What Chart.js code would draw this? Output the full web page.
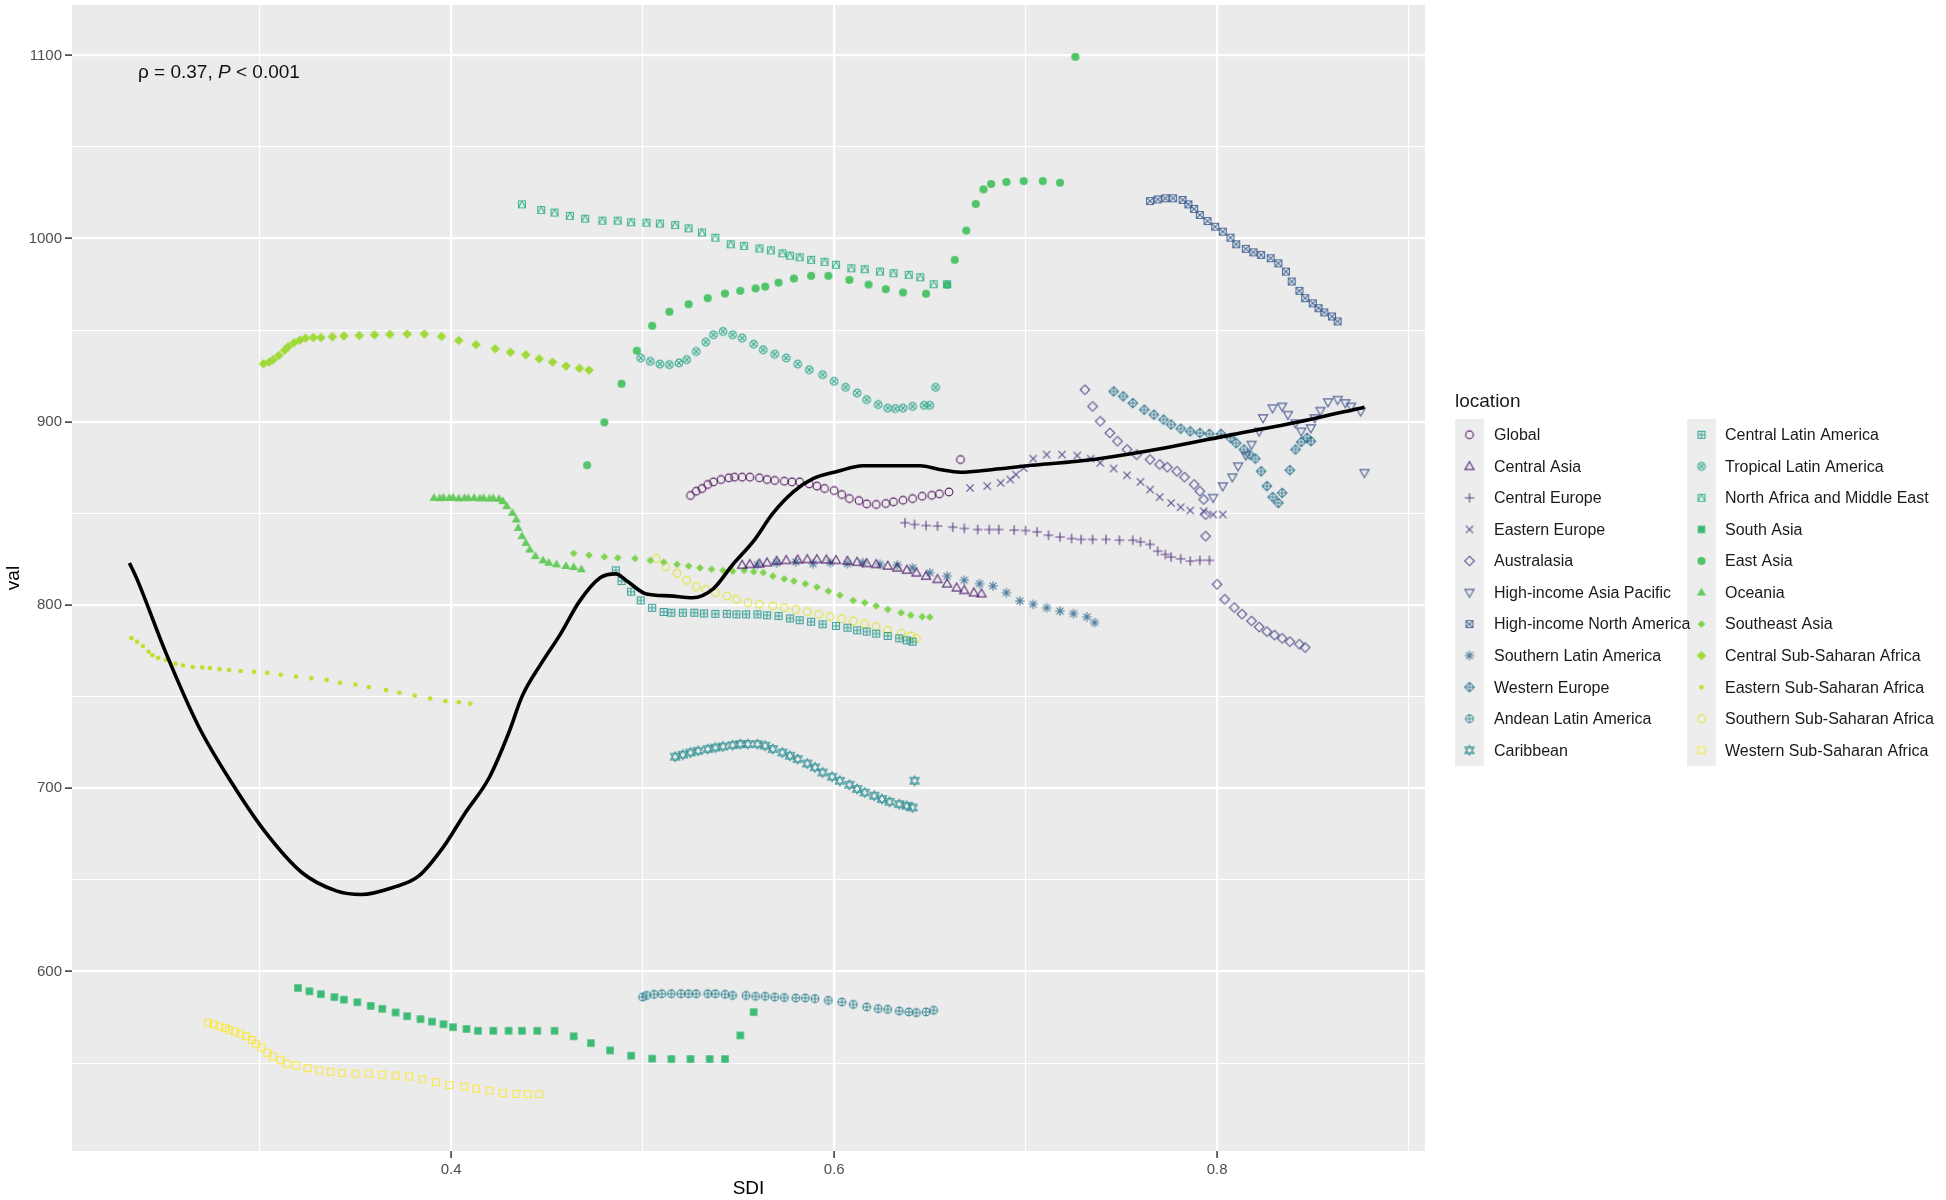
<!DOCTYPE html>
<html>
<head>
<meta charset="utf-8">
<script src="https://cdn.jsdelivr.net/npm/chart.js@4.4.1/dist/chart.umd.min.js"></script>
<style>
html,body{margin:0;padding:0;background:#ffffff;}
#wrap{width:1946px;height:1200px;position:relative;}
</style>
</head>
<body>
<div id="wrap"><canvas id="c" width="1946" height="1200"></canvas></div>
<script>
// ---------------- DATA ----------------
const regionNames = ['Global','Central Asia','Central Europe','Eastern Europe','Australasia','High-income Asia Pacific','High-income North America','Southern Latin America','Western Europe','Andean Latin America','Caribbean','Central Latin America','Tropical Latin America','North Africa and Middle East','South Asia','East Asia','Oceania','Southeast Asia','Central Sub-Saharan Africa','Eastern Sub-Saharan Africa','Southern Sub-Saharan Africa','Western Sub-Saharan Africa'];

const globalSDI = [0.525,0.528,0.531,0.534,0.537,0.541,0.545,0.548,0.552,0.556,0.561,0.565,0.569,0.574,0.578,0.582,0.587,0.591,0.595,0.600,0.604,0.608,0.613,0.617,0.622,0.627,0.631,0.636,0.641,0.646,0.651,0.655,0.660,0.666];
const globalVal = [859.8,862.1,863.6,865.8,867.2,868.5,869.4,869.8,869.8,869.8,869.4,868.5,868.0,867.6,867.2,867.2,866.1,864.9,863.6,862.5,860.3,858.1,857.0,855.2,854.9,855.4,856.3,857.2,858.1,859.4,859.9,860.7,861.7,879.4];

const centralAsiaSDI = [0.552,0.556,0.561,0.565,0.570,0.575,0.581,0.586,0.591,0.596,0.601,0.607,0.612,0.617,0.622,0.628,0.633,0.638,0.643,0.648,0.654,0.659,0.664,0.668,0.673,0.677];
const centralAsiaVal = [821.8,822.2,822.5,823.1,824.0,824.4,824.7,824.9,824.9,824.7,824.4,824.0,823.4,822.7,822.2,821.3,820.3,819.1,817.6,815.8,814.0,811.6,809.4,808.0,806.7,806.2];

const centralEuropeSDI = [0.637,0.642,0.648,0.654,0.662,0.668,0.675,0.681,0.686,0.694,0.700,0.706,0.712,0.718,0.724,0.729,0.735,0.742,0.749,0.756,0.760,0.765,0.769,0.773,0.776,0.781,0.786,0.791,0.796];
const centralEuropeVal = [844.9,844.0,843.4,843.1,842.5,841.8,841.2,841.2,841.2,840.9,840.7,839.9,838.1,837.1,836.3,835.8,835.8,835.8,835.4,835.4,834.5,833.1,829.4,827.6,826.2,825.2,824.0,824.4,824.4];

const easternEuropeSDI = [0.671,0.680,0.687,0.692,0.695,0.699,0.704,0.711,0.719,0.727,0.734,0.739,0.746,0.753,0.760,0.765,0.770,0.776,0.781,0.786,0.793,0.798,0.803];
const easternEuropeVal = [863.9,864.9,866.7,868.5,871.2,874.8,879.9,882.1,882.1,881.6,879.9,877.6,874.5,870.8,867.2,863.0,858.9,855.7,853.4,851.6,851.2,849.4,849.4];

const australasiaSDI = [0.731,0.735,0.739,0.744,0.748,0.753,0.758,0.765,0.770,0.774,0.779,0.783,0.788,0.791,0.793,0.794,0.794,0.800,0.804,0.809,0.813,0.818,0.822,0.826,0.830,0.834,0.838,0.843,0.846];
const australasiaVal = [917.5,908.4,900.3,893.9,889.4,884.9,882.1,879.4,876.7,875.2,873.0,869.8,865.8,862.1,857.6,849.4,837.6,811.3,803.1,798.6,795.0,791.3,788.0,785.5,783.6,781.8,780.0,778.6,776.8];

const hiAsiaPacificSDI = [0.798,0.803,0.808,0.811,0.815,0.818,0.822,0.824,0.829,0.834,0.837,0.841,0.844,0.849,0.851,0.854,0.858,0.863,0.867,0.870,0.875,0.877];
const hiAsiaPacificVal = [858.6,864.9,869.8,875.8,881.7,887.6,894.8,902.1,907.5,908.4,903.9,899.3,894.8,896.6,902.1,906.1,910.8,912.1,910.3,908.4,905.7,872.2];

const hiNorthAmericaSDI = [0.765,0.769,0.773,0.777,0.782,0.785,0.788,0.791,0.795,0.799,0.803,0.807,0.810,0.815,0.819,0.823,0.828,0.832,0.836,0.839,0.843,0.846,0.850,0.853,0.856,0.860,0.863];
const hiNorthAmericaVal = [1020.5,1021.4,1022.0,1022.0,1021.1,1018.7,1016.2,1012.9,1009.6,1006.5,1003.8,1000.5,996.9,994.4,992.5,991.1,989.3,986.5,982.0,976.6,971.5,967.5,964.7,962.0,959.7,957.5,954.8];

const southernLatAmSDI = [0.560,0.570,0.580,0.589,0.598,0.607,0.615,0.624,0.633,0.641,0.650,0.659,0.668,0.676,0.683,0.690,0.697,0.704,0.711,0.718,0.725,0.732,0.736];
const southernLatAmVal = [822.0,823.0,823.5,822.5,823.1,822.5,823.1,822.2,821.8,820.3,817.6,815.8,813.5,811.6,810.4,806.7,802.2,800.4,798.5,796.7,795.3,793.5,790.4];

const westernEuropeSDI = [0.746,0.751,0.756,0.762,0.767,0.772,0.776,0.781,0.786,0.791,0.796,0.802,0.807,0.810,0.814,0.817,0.820,0.823,0.826,0.829,0.832,0.834,0.838,0.841,0.844,0.847,0.849];
const westernEuropeVal = [916.6,913.9,910.2,906.6,903.9,901.2,898.5,896.3,894.8,893.9,893.4,893.4,891.2,888.4,884.9,882.1,879.9,873.0,864.9,858.9,855.7,861.2,873.6,884.9,889.0,891.2,889.4];

const andeanLatAmSDI = [0.500,0.502,0.506,0.510,0.515,0.520,0.524,0.528,0.534,0.538,0.543,0.547,0.554,0.559,0.564,0.569,0.574,0.580,0.585,0.590,0.597,0.604,0.610,0.617,0.623,0.628,0.634,0.639,0.643,0.648,0.652];
const andeanLatAmVal = [586.0,586.9,587.5,587.8,587.8,587.8,587.8,587.8,587.8,587.8,587.5,586.9,586.9,586.4,586.4,586.0,585.7,585.5,585.5,585.1,584.2,583.3,582.0,580.6,579.7,579.3,578.4,577.9,577.5,577.9,578.8];

const caribbeanSDI = [0.517,0.521,0.525,0.529,0.534,0.538,0.542,0.547,0.551,0.555,0.560,0.564,0.568,0.573,0.577,0.581,0.586,0.590,0.594,0.599,0.603,0.608,0.612,0.616,0.621,0.625,0.629,0.634,0.638,0.641,0.642];
const caribbeanVal = [717.2,718.3,719.5,720.4,721.4,722.2,722.8,723.5,724.1,724.1,724.1,723.2,721.4,719.5,717.7,715.9,713.5,711.4,708.6,706.3,704.1,701.9,699.6,697.7,695.9,694.1,692.6,691.3,690.4,689.5,704.1];

const centralLatAmSDI = [0.486,0.489,0.494,0.499,0.505,0.511,0.515,0.521,0.527,0.532,0.538,0.544,0.549,0.554,0.560,0.565,0.571,0.577,0.582,0.588,0.594,0.601,0.607,0.612,0.617,0.622,0.628,0.634,0.638,0.641];
const centralLatAmVal = [818.9,813.1,807.3,802.5,798.5,796.2,795.8,795.8,795.8,795.4,795.2,795.2,794.9,794.9,794.9,794.4,794.0,792.7,791.7,790.9,789.5,788.6,787.6,786.2,785.5,784.4,783.1,781.8,780.7,780.0];

const tropicalLatAmSDI = [0.499,0.504,0.509,0.514,0.519,0.523,0.528,0.533,0.537,0.542,0.547,0.552,0.558,0.563,0.569,0.575,0.581,0.587,0.594,0.600,0.606,0.612,0.617,0.623,0.628,0.632,0.636,0.641,0.647,0.650,0.653];
const tropicalLatAmVal = [934.8,933.0,931.5,931.2,932.1,933.9,938.4,943.5,947.5,949.3,947.5,945.7,942.4,939.3,936.9,934.8,931.5,928.4,925.7,922.1,918.8,915.7,912.1,909.4,907.5,907.2,907.5,908.4,909.0,909.0,918.8];

const northAfricaMESDI = [0.437,0.447,0.454,0.462,0.470,0.479,0.487,0.494,0.502,0.509,0.517,0.524,0.531,0.538,0.546,0.553,0.561,0.567,0.573,0.577,0.582,0.588,0.595,0.601,0.609,0.616,0.624,0.631,0.639,0.645,0.652,0.659];
const northAfricaMEVal = [1018.7,1015.6,1014.2,1012.4,1010.9,1009.8,1009.8,1008.9,1008.7,1008.2,1007.4,1005.6,1003.3,1000.5,996.9,996.0,994.6,993.6,992.0,990.7,989.8,988.4,987.3,985.7,983.8,983.3,982.0,981.1,980.2,978.9,975.1,975.1];

const southAsiaSDI = [0.320,0.326,0.332,0.339,0.344,0.351,0.358,0.364,0.371,0.377,0.384,0.390,0.396,0.401,0.408,0.414,0.422,0.430,0.437,0.445,0.454,0.464,0.473,0.483,0.494,0.505,0.515,0.525,0.535,0.543,0.551,0.558];
const southAsiaVal = [591.0,589.2,587.6,586.0,584.6,583.2,581.2,579.6,577.6,575.6,574.0,572.6,571.2,569.6,568.6,567.6,567.6,567.6,567.6,567.6,567.6,564.6,560.9,556.9,554.0,552.4,552.2,552.2,552.2,552.2,565.1,577.8];

const eastAsiaSDI = [0.471,0.480,0.489,0.497,0.505,0.514,0.524,0.534,0.543,0.551,0.559,0.564,0.571,0.579,0.588,0.597,0.608,0.618,0.627,0.636,0.648,0.659,0.663,0.669,0.674,0.678,0.682,0.690,0.699,0.709,0.718,0.726];
const eastAsiaVal = [876.3,899.7,920.8,938.8,952.4,960.1,964.2,967.5,970.0,971.5,972.8,973.8,976.0,978.2,979.7,979.7,977.5,974.9,972.4,970.6,969.9,974.8,988.4,1004.4,1018.9,1026.9,1029.8,1030.9,1031.4,1031.4,1030.5,1099.2];

const oceaniaSDI = [0.391,0.394,0.396,0.399,0.401,0.404,0.407,0.409,0.412,0.415,0.417,0.420,0.422,0.425,0.427,0.429,0.432,0.434,0.435,0.437,0.439,0.441,0.444,0.448,0.451,0.455,0.460,0.464,0.468];
const oceaniaVal = [858.5,858.3,858.6,858.4,858.6,858.2,858.5,858.3,858.5,858.2,858.4,858.1,858.3,858.0,856.7,854.0,850.3,846.7,842.1,837.6,833.9,830.3,826.7,824.4,823.1,822.2,821.3,820.7,819.5];

const southeastAsiaSDI = [0.464,0.472,0.480,0.487,0.496,0.504,0.511,0.518,0.524,0.530,0.536,0.542,0.547,0.553,0.558,0.563,0.568,0.574,0.579,0.585,0.591,0.597,0.603,0.610,0.616,0.622,0.628,0.635,0.640,0.646,0.650];
const southeastAsiaVal = [828.2,827.2,826.3,825.8,825.4,824.4,823.4,822.2,821.3,820.3,819.5,818.9,818.5,818.9,818.2,817.7,815.8,814.3,813.1,811.6,809.8,807.6,805.4,802.5,801.3,799.5,797.6,795.8,794.4,793.6,793.4];

const centralSSASDI = [0.302,0.305,0.307,0.310,0.313,0.315,0.318,0.321,0.324,0.328,0.332,0.338,0.344,0.352,0.360,0.368,0.377,0.386,0.395,0.404,0.413,0.423,0.431,0.439,0.446,0.453,0.460,0.467,0.472];
const centralSSAVal = [931.7,932.6,933.9,936.2,939.0,941.1,943.2,944.6,945.7,946.0,946.0,946.4,946.9,947.1,947.5,947.7,947.9,947.9,946.6,944.4,942.1,939.9,938.0,936.6,934.4,932.6,930.4,929.2,928.2];

const easternSSASDI = [0.233,0.236,0.239,0.242,0.244,0.247,0.251,0.256,0.260,0.265,0.270,0.274,0.279,0.284,0.290,0.297,0.304,0.311,0.319,0.327,0.335,0.342,0.350,0.357,0.366,0.373,0.381,0.389,0.397,0.404,0.410];
const easternSSAVal = [782.0,780.0,777.6,774.6,772.6,771.2,770.0,768.0,767.0,766.2,766.0,765.6,765.0,764.6,764.0,763.6,763.0,762.0,761.0,760.0,759.2,757.6,756.6,755.2,753.6,752.2,750.6,749.0,747.6,747.0,746.2];

const southernSSASDI = [0.507,0.512,0.518,0.523,0.528,0.533,0.538,0.544,0.549,0.555,0.561,0.568,0.574,0.580,0.586,0.592,0.598,0.604,0.610,0.616,0.622,0.628,0.635,0.640,0.643];
const southernSSAVal = [825.4,820.9,817.3,813.5,810.0,808.5,806.7,804.9,803.1,801.3,800.4,799.5,798.5,797.6,796.4,794.9,793.6,792.5,791.3,789.8,788.2,786.2,784.6,783.1,781.8];

const westernSSASDI = [0.273,0.276,0.279,0.282,0.284,0.287,0.290,0.293,0.296,0.298,0.301,0.304,0.307,0.311,0.314,0.319,0.325,0.331,0.337,0.343,0.350,0.357,0.364,0.371,0.378,0.385,0.392,0.399,0.407,0.413,0.420,0.427,0.434,0.440,0.446];
const westernSSAVal = [572.0,571.2,570.0,569.2,568.0,567.2,566.0,564.6,562.6,560.6,558.6,555.6,553.6,551.6,549.6,548.6,547.2,546.0,545.2,544.6,544.2,544.2,543.6,543.2,542.6,541.2,539.6,538.0,537.2,536.0,535.0,533.6,533.2,533.0,533.0];

// smoothed fit curve (black line)
const fitSDI = [0.232,0.236,0.251,0.268,0.286,0.303,0.322,0.340,0.353,0.370,0.383,0.396,0.407,0.420,0.430,0.437,0.447,0.457,0.467,0.478,0.486,0.492,0.502,0.514,0.526,0.537,0.547,0.558,0.568,0.579,0.589,0.602,0.615,0.631,0.645,0.655,0.666,0.683,0.701,0.727,0.739,0.774,0.808,0.843,0.877];
const fitVal = [823,814,774,734,702,676,654,644,642,646,652,668,686,706,730,750,768,784,802,815,817,813,806,805,804,809,822,835,850,862,869,873,876,876,876,874,872.5,874,876,878.5,880,886,893,900,908];

// axis ticks
const xGridValues = [0.3,0.4,0.5,0.6,0.7,0.8,0.9];
const xTickLabels = [0.4,0.6,0.8];
const yGridValues = [550,600,650,700,750,800,850,900,950,1000,1050,1100];
const yTickLabels = [600,700,800,900,1000,1100];

const annotationText = ['\u03C1 = 0.37, ', 'P', ' < 0.001'];

// ---------------- STYLE ----------------
const seriesSDI = [globalSDI,centralAsiaSDI,centralEuropeSDI,easternEuropeSDI,australasiaSDI,hiAsiaPacificSDI,hiNorthAmericaSDI,southernLatAmSDI,westernEuropeSDI,andeanLatAmSDI,caribbeanSDI,centralLatAmSDI,tropicalLatAmSDI,northAfricaMESDI,southAsiaSDI,eastAsiaSDI,oceaniaSDI,southeastAsiaSDI,centralSSASDI,easternSSASDI,southernSSASDI,westernSSASDI];
const seriesVal = [globalVal,centralAsiaVal,centralEuropeVal,easternEuropeVal,australasiaVal,hiAsiaPacificVal,hiNorthAmericaVal,southernLatAmVal,westernEuropeVal,andeanLatAmVal,caribbeanVal,centralLatAmVal,tropicalLatAmVal,northAfricaMEVal,southAsiaVal,eastAsiaVal,oceaniaVal,southeastAsiaVal,centralSSAVal,easternSSAVal,southernSSAVal,westernSSAVal];
const regionColors = ['#440154','#471365','#482475','#45327E','#424186','#3C4F8A','#375B8D','#31688E','#2C738E','#277F8E','#238A8D','#1F958B','#20A386','#29AF7F','#3CBB75','#50C46A','#65CB5E','#7FD34E','#9FDA3A','#BDDF26','#DFE318','#FDE725'];
const regionShapes = ['circle','triangle','plus','cross','diamond','triDown','squareCross','asterisk','diamondPlus','circlePlus','star6','squarePlus','circleCross','squareTri','fSquare','fCircle','fTriangle','fDiamondS','fDiamond','dot','circle','square'];

function hexA(hex, a){
  const r=parseInt(hex.slice(1,3),16), g=parseInt(hex.slice(3,5),16), b=parseInt(hex.slice(5,7),16);
  return 'rgba('+r+','+g+','+b+','+a+')';
}

function makeMarker(shape, color, s){
  const size = 2*Math.ceil(s)+4;
  const c = document.createElement('canvas');
  c.width = size; c.height = size;
  const g = c.getContext('2d');
  const m = size/2;
  const filled = shape.charAt(0)==='f' || shape==='dot';
  g.strokeStyle = filled ? color : hexA(color,0.85);
  g.fillStyle = color;
  g.lineWidth = 1.15;
  const tri = (up, k) => {
    const h = s*k;
    if (up){ g.moveTo(m, m-h); g.lineTo(m+h*0.95, m+h*0.65); g.lineTo(m-h*0.95, m+h*0.65); }
    else { g.moveTo(m, m+h); g.lineTo(m+h*0.95, m-h*0.65); g.lineTo(m-h*0.95, m-h*0.65); }
    g.closePath();
  };
  const plus = (k) => { g.moveTo(m-s*k,m); g.lineTo(m+s*k,m); g.moveTo(m,m-s*k); g.lineTo(m,m+s*k); };
  const cross = (k) => { const d=s*k; g.moveTo(m-d,m-d); g.lineTo(m+d,m+d); g.moveTo(m+d,m-d); g.lineTo(m-d,m+d); };
  const diamond = (k) => { const d=s*k; g.moveTo(m,m-d); g.lineTo(m+d,m); g.lineTo(m,m+d); g.lineTo(m-d,m); g.closePath(); };
  const square = (k) => { const d=s*k; g.rect(m-d,m-d,2*d,2*d); };
  g.beginPath();
  switch(shape){
    case 'circle': g.arc(m,m,s*0.8,0,Math.PI*2); g.stroke(); break;
    case 'triangle': tri(true,1); g.stroke(); break;
    case 'triDown': tri(false,1); g.stroke(); break;
    case 'plus': plus(1); g.stroke(); break;
    case 'cross': cross(0.75); g.stroke(); break;
    case 'diamond': diamond(1); g.stroke(); break;
    case 'squareCross': square(0.72); cross(0.72); g.stroke(); break;
    case 'asterisk': plus(1); cross(0.72); g.stroke(); break;
    case 'diamondPlus': diamond(1); plus(1); g.stroke(); break;
    case 'circlePlus': g.arc(m,m,s*0.8,0,Math.PI*2); plus(0.8); g.stroke(); break;
    case 'star6': tri(true,1); tri(false,1); g.stroke(); break;
    case 'squarePlus': square(0.72); plus(0.72); g.stroke(); break;
    case 'circleCross': g.arc(m,m,s*0.8,0,Math.PI*2); cross(0.57); g.stroke(); break;
    case 'squareTri': square(0.72); g.moveTo(m,m-s*0.72); g.lineTo(m+s*0.72,m+s*0.72); g.lineTo(m-s*0.72,m+s*0.72); g.closePath(); g.stroke(); break;
    case 'square': square(0.72); g.stroke(); break;
    case 'fSquare': square(0.78); g.fill(); break;
    case 'fCircle': g.arc(m,m,s*0.85,0,Math.PI*2); g.fill(); break;
    case 'fTriangle': tri(true,1); g.fill(); break;
    case 'fDiamond': diamond(1); g.fill(); break;
    case 'fDiamondS': diamond(0.8); g.fill(); break;
    case 'dot': g.arc(m,m,s*0.48,0,Math.PI*2); g.fill(); break;
  }
  return c;
}

const markers = regionShapes.map((sh,i)=>makeMarker(sh, regionColors[i], 4.8));

function zip(xs, ys){ return xs.map((x,i)=>({x:x, y:ys[i]})); }

const datasets = [{
  label:'fit', data: zip(fitSDI, fitVal), showLine:true, borderColor:'#000000', borderWidth:3.6,
  pointRadius:0, cubicInterpolationMode:'monotone', fill:false, order:0
}];
regionNames.forEach((name,i)=>{
  datasets.push({label:name, data: zip(seriesSDI[i], seriesVal[i]), pointStyle: markers[i], pointRadius:4, showLine:false, order:1});
});

const near = (a,b)=>Math.abs(a-b)<1e-6;

const panelPlugin = {
  id:'panel',
  beforeDraw(chart){
    const {ctx, chartArea:a} = chart;
    ctx.save();
    ctx.fillStyle='#ffffff'; ctx.fillRect(0,0,chart.width,chart.height);
    ctx.fillStyle='#EBEBEB'; ctx.fillRect(a.left,a.top,a.right-a.left,a.bottom-a.top);
    ctx.restore();
  },
  afterDraw(chart){
    const ctx = chart.ctx;
    ctx.save();
    // annotation
    ctx.fillStyle='#111111';
    ctx.textBaseline='alphabetic';
    let x = 138; const y = 78;
    ctx.font = '19px "Liberation Sans", Arial, sans-serif';
    ctx.fillText(annotationText[0], x, y); x += ctx.measureText(annotationText[0]).width;
    ctx.font = 'italic 19px "Liberation Sans", Arial, sans-serif';
    ctx.fillText(annotationText[1], x, y); x += ctx.measureText(annotationText[1]).width;
    ctx.font = '19px "Liberation Sans", Arial, sans-serif';
    ctx.fillText(annotationText[2], x, y);
    // legend
    ctx.fillStyle='#1A1A1A';
    ctx.font = '19px "Liberation Sans", Arial, sans-serif';
    ctx.textBaseline='middle';
    ctx.fillText('location', 1455, 402);
    const rows = 11, top = 419, rowH = 31.55;
    const cols = [{kx:1455, tx:1494},{kx:1687, tx:1725}];
    cols.forEach(cl=>{ ctx.fillStyle='#EDEDED'; ctx.fillRect(cl.kx, top, 29, rows*rowH); });
    ctx.font = '16px "Liberation Sans", Arial, sans-serif';
    regionNames.forEach((name,i)=>{
      const cl = cols[Math.floor(i/rows)];
      const r = i % rows;
      const cy = top + rowH*(r+0.5);
      const mk = markers[i];
      ctx.drawImage(mk, cl.kx+14.5-mk.width/2, cy-mk.height/2);
      ctx.fillStyle='#1A1A1A';
      ctx.fillText(name, cl.tx, cy+1);
    });
    ctx.restore();
  }
};

new Chart(document.getElementById('c'), {
  type:'scatter',
  data:{datasets},
  plugins:[panelPlugin],
  options:{
    responsive:false, animation:false, devicePixelRatio:1, events:[],
    layout:{padding:{left:0, right:521, top:3, bottom:0}},
    plugins:{legend:{display:false}, tooltip:{enabled:false}},
    scales:{
      x:{
        type:'linear', min:0.202, max:0.9086,
        afterBuildTicks:(s)=>{ s.ticks = xGridValues.map(v=>({value:v})); },
        afterFit:(s)=>{ s.height = 49; s.paddingLeft = 0; s.paddingRight = 0; },
        ticks:{ autoSkip:false, maxRotation:0, padding:3, color:'#4D4D4D',
          font:{family:'"Liberation Sans", Arial, sans-serif', size:15},
          callback:(v)=> xTickLabels.some(t=>near(t,v)) ? v.toFixed(1) : '' },
        grid:{ color:'#FFFFFF',
          lineWidth:(c)=> (c.tick && xTickLabels.some(t=>near(t,c.tick.value))) ? 2.2 : 1.1,
          tickLength:7, tickWidth:1.5,
          tickColor:(c)=> (c.tick && xTickLabels.some(t=>near(t,c.tick.value))) ? '#333333' : 'rgba(0,0,0,0)' },
        border:{display:false},
        title:{display:true, text:'SDI', color:'#000000', padding:{top:0,bottom:0},
          font:{family:'"Liberation Sans", Arial, sans-serif', size:19}}
      },
      y:{
        type:'linear', min:502, max:1127.5,
        afterBuildTicks:(s)=>{ s.ticks = yGridValues.map(v=>({value:v})); },
        afterFit:(s)=>{ s.width = 72; s.paddingTop = 0; s.paddingBottom = 0; },
        ticks:{ autoSkip:false, padding:3, color:'#4D4D4D',
          font:{family:'"Liberation Sans", Arial, sans-serif', size:15},
          callback:(v)=> yTickLabels.some(t=>near(t,v)) ? String(v) : '' },
        grid:{ color:'#FFFFFF',
          lineWidth:(c)=> (c.tick && yTickLabels.some(t=>near(t,c.tick.value))) ? 2.2 : 1.1,
          tickLength:7, tickWidth:1.5,
          tickColor:(c)=> (c.tick && yTickLabels.some(t=>near(t,c.tick.value))) ? '#333333' : 'rgba(0,0,0,0)' },
        border:{display:false},
        title:{display:true, text:'val', color:'#000000', padding:{top:2,bottom:0},
          font:{family:'"Liberation Sans", Arial, sans-serif', size:19}}
      }
    }
  }
});
</script>
</body>
</html>
